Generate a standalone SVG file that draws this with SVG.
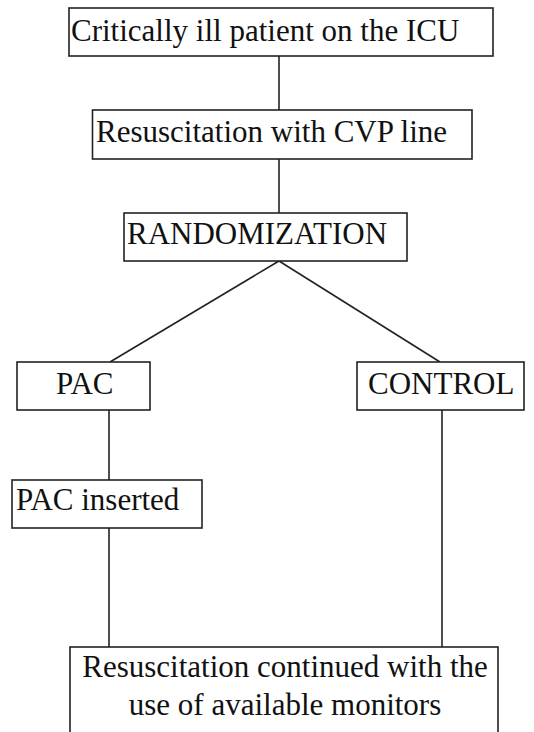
<svg xmlns="http://www.w3.org/2000/svg" width="534" height="732" viewBox="0 0 534 732">
<style>
rect{fill:#fff;stroke:#222;stroke-width:1.6}
text{font-family:"Liberation Serif","Times New Roman",serif;font-size:31px;fill:#111}
.c line{stroke:#222;stroke-width:1.6}
</style>
<rect x="0" y="0" width="534" height="732" style="stroke:none;fill:#fff"/>
<g class="c" id="connectors">
<line x1="279" y1="56" x2="279" y2="110"/>
<line x1="279" y1="159" x2="279" y2="213"/>
<line x1="279" y1="261" x2="110" y2="362"/>
<line x1="279" y1="261" x2="440" y2="362"/>
<line x1="109" y1="410" x2="109" y2="480"/>
<line x1="109" y1="528" x2="109" y2="647"/>
<line x1="442" y1="410" x2="442" y2="647"/>
</g>
<g id="n1"><rect x="69" y="8" width="424" height="48"/><text x="71" y="41">Critically ill patient on the ICU</text></g>
<g id="n2"><rect x="92.5" y="110" width="379.5" height="49"/><text x="96" y="142">Resuscitation with CVP line</text></g>
<g id="n3"><rect x="124" y="213" width="283" height="48"/><text x="127" y="244">RANDOMIZATION</text></g>
<g id="n4"><rect x="17" y="362" width="133" height="48"/><text x="56" y="394">PAC</text></g>
<g id="n5"><rect x="357" y="362" width="167" height="48"/><text x="368" y="394">CONTROL</text></g>
<g id="n6"><rect x="12" y="480" width="190" height="48"/><text x="16" y="510">PAC inserted</text></g>
<g id="n7"><rect x="70" y="647" width="428" height="100"/><text x="285" y="677" text-anchor="middle">Resuscitation continued with the</text><text x="285" y="715" text-anchor="middle">use of available monitors</text></g>
</svg>
